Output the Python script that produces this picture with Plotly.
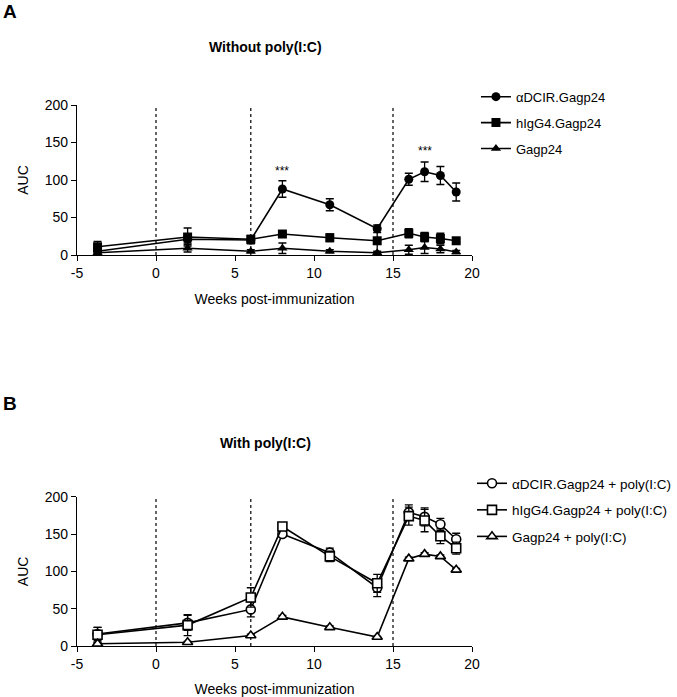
import plotly.graph_objects as go

weeks = [-3.7, 2, 6, 8, 11, 14, 16, 17, 18, 19]
immunizations = [0, 6, 15]

# Panel A (without poly(I:C))
a_dcir = [5, 21, 20, 88, 67, 35, 101, 111, 106, 84]
a_dcir_err = [4, 5, 5, 11, 8, 5, 8, 13, 12, 12]
a_higg = [11, 24, 21, 28, 23, 19, 29, 24, 22, 19]
a_higg_err = [7, 12, 5, 2, 5, 17, 6, 6, 7, 2]
a_gag = [3, 9, 5, 9, 5, 3, 7, 10, 8, 4]
a_gag_err = [2, 5, 2, 7, 2, 2, 6, 8, 5, 2]

# Panel B (with poly(I:C))
b_dcir = [16, 31, 49, 150, 125, 78, 179, 173, 163, 143]
b_dcir_err = [9, 10, 10, 4, 6, 12, 10, 12, 8, 8]
b_higg = [15, 28, 65, 160, 120, 84, 174, 168, 147, 131]
b_higg_err = [10, 14, 13, 4, 7, 12, 12, 15, 10, 8]
b_gag = [3, 5, 14, 39, 25, 12, 117, 123, 120, 102]
b_gag_err = [1, 1, 2, 2, 2, 1, 2, 2, 2, 2]

names_a = ["αDCIR.Gagp24", "hIgG4.Gagp24", "Gagp24"]
names_b = ["αDCIR.Gagp24 + poly(I:C)", "hIgG4.Gagp24 + poly(I:C)", "Gagp24 + poly(I:C)"]
symbols = ["circle", "square", "triangle-up"]

x_ticks = [-5, 0, 5, 10, 15, 20]
x_ticktext = ["-5", "0", "5", "10", "15", "20"]
y_ticks = [0, 50, 100, 150, 200]

star_x = [8, 17]
star_y = [112, 139]

FONT = "Liberation Sans, Arial, sans-serif"

fig = go.Figure()

series_a = [(a_dcir, a_dcir_err), (a_higg, a_higg_err), (a_gag, a_gag_err)]
series_b = [(b_dcir, b_dcir_err), (b_higg, b_higg_err), (b_gag, b_gag_err)]

for i, (vals, err) in enumerate(series_a):
    fig.add_trace(go.Scatter(
        x=weeks, y=vals, name=names_a[i], mode="lines+markers",
        xaxis="x", yaxis="y", legend="legend", legendgroup="a%d" % i,
        line=dict(color="black", width=1.6),
        marker=dict(symbol=symbols[i], size=9, color="black"),
        error_y=dict(type="data", array=err, visible=True, color="black", thickness=1.3, width=4),
    ))

for i, (vals, err) in enumerate(series_b):
    fig.add_trace(go.Scatter(
        x=weeks, y=vals, name=names_b[i], mode="lines+markers",
        xaxis="x2", yaxis="y2", legend="legend2", legendgroup="b%d" % i,
        line=dict(color="black", width=1.6),
        marker=dict(symbol=symbols[i], size=9, color="white", line=dict(color="black", width=1.6)),
        error_y=dict(type="data", array=err, visible=True, color="black", thickness=1.3, width=4),
    ))

shapes = []
for xr, yr in [("x", "y"), ("x2", "y2")]:
    for w in immunizations:
        shapes.append(dict(type="line", xref=xr, yref=yr, x0=w, x1=w, y0=0, y1=200,
                           line=dict(color="black", width=1.2, dash="dot"), layer="below"))

annotations = [
    dict(text="<b>A</b>", xref="paper", yref="paper", x=-0.193, y=1.196, xanchor="left", yanchor="top",
         showarrow=False, font=dict(size=19, family=FONT, color="black")),
    dict(text="<b>B</b>", xref="paper", yref="paper", x=-0.193, y=0.471, xanchor="left", yanchor="top",
         showarrow=False, font=dict(size=19, family=FONT, color="black")),
    dict(text="<b>Without poly(I:C)</b>", xref="paper", yref="paper", x=0.476, y=1.107,
         xanchor="center", yanchor="middle", showarrow=False, font=dict(size=14, family=FONT, color="black")),
    dict(text="<b>With poly(I:C)</b>", xref="paper", yref="paper", x=0.476, y=0.375,
         xanchor="center", yanchor="middle", showarrow=False, font=dict(size=14, family=FONT, color="black")),
]
for sx, sy in zip(star_x, star_y):
    annotations.append(dict(text="***", x=sx, y=sy, xref="x", yref="y", showarrow=False,
                            font=dict(size=12, family=FONT, color="black")))

axis_common = dict(showline=True, linecolor="black", linewidth=1.3, ticks="outside", ticklen=5,
                   tickcolor="black", tickwidth=1.3, showgrid=False, zeroline=False, automargin=False,
                   tickfont=dict(size=14, family=FONT, color="black"))

fig.update_layout(
    width=677, height=697,
    paper_bgcolor="white", plot_bgcolor="white",
    margin=dict(l=77, r=205, t=105, b=51, autoexpand=False),
    font=dict(family=FONT, color="black"),
    showlegend=True,
    xaxis=dict(domain=[0, 1], anchor="y", range=[-5, 20], tickvals=x_ticks, ticktext=x_ticktext,
               title=dict(text="Weeks post-immunization", font=dict(size=14, family=FONT), standoff=14),
               **axis_common),
    yaxis=dict(domain=[0.7227, 1], anchor="x", range=[0, 200], tickvals=y_ticks,
               title=dict(text="AUC", font=dict(size=14, family=FONT), standoff=12),
               **axis_common),
    xaxis2=dict(domain=[0, 1], anchor="y2", range=[-5, 20], tickvals=x_ticks, ticktext=x_ticktext,
                title=dict(text="Weeks post-immunization", font=dict(size=14, family=FONT), standoff=14),
                **axis_common),
    yaxis2=dict(domain=[0, 0.276], anchor="x2", range=[0, 200], tickvals=y_ticks,
                title=dict(text="AUC", font=dict(size=14, family=FONT), standoff=12),
                **axis_common),
    legend=dict(x=1.01, y=1.043, xanchor="left", yanchor="top", bgcolor="rgba(0,0,0,0)",
                font=dict(size=13, family=FONT, color="black"), tracegroupgap=6),
    legend2=dict(x=1.0, y=0.329, xanchor="left", yanchor="top", bgcolor="rgba(0,0,0,0)",
                 font=dict(size=13.5, family=FONT, color="black"), tracegroupgap=6),
    shapes=shapes,
    annotations=annotations,
)

fig.write_html("out.html", config={"displayModeBar": False},
               post_script="document.body.style.margin='0';document.body.style.overflow='hidden';")
